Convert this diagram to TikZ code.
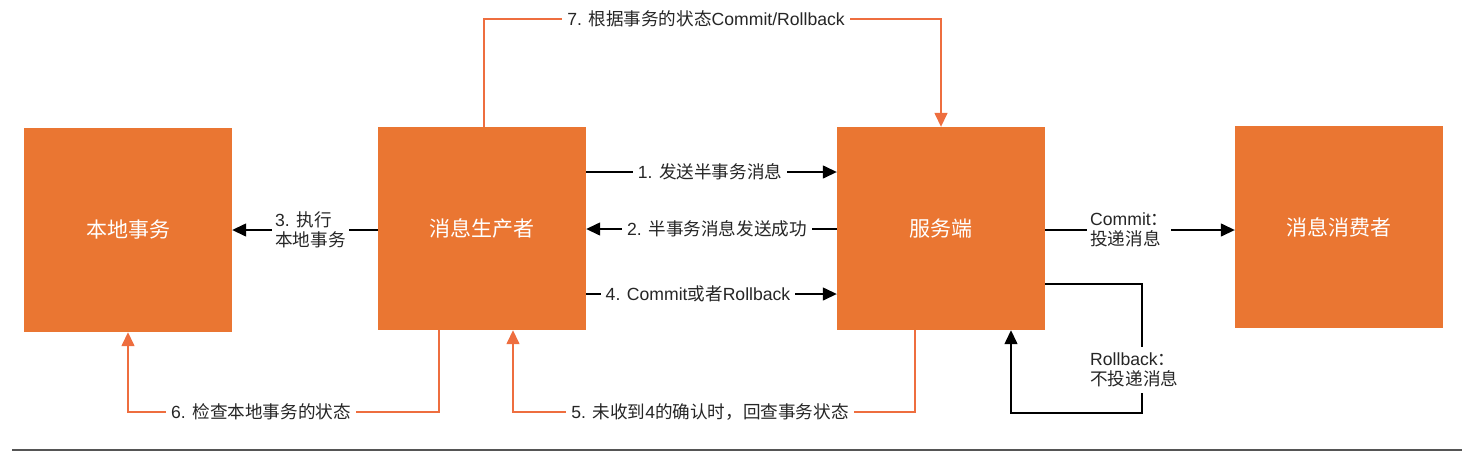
\documentclass[tikz,border=0pt]{standalone}
\usepackage{fontspec}
\setmainfont{Liberation Sans}
\newfontfamily\cjk{Noto Sans CJK SC}
\usetikzlibrary{arrows.meta}
\definecolor{boxorange}{HTML}{EA7632}
\definecolor{lineorange}{HTML}{EE6E3F}
\definecolor{rulegray}{HTML}{555555}
\tikzset{
  box/.style={fill=boxorange, draw=none, minimum width=208pt, minimum height=203pt, inner sep=0pt,
    text=white, font=\fontsize{21}{25}\selectfont\cjk},
  blk/.style={draw=black, line width=1.4pt, -{Triangle[length=14pt,width=13pt]}},
  org/.style={draw=lineorange, line width=1.5pt, -{Triangle[length=14pt,width=13pt]}},
  lbl/.style={fill=white, inner xsep=5pt, inner ysep=2pt, font=\fontsize{17.6}{21}\selectfont, text=black!85},
  lbl2/.style={lbl, align=left, font=\fontsize{17.6}{20}\selectfont}
}
\begin{document}
\begin{tikzpicture}[x=1pt,y=-1pt]
\useasboundingbox (0,0) rectangle (1476,451);
% boxes
\node[box, minimum height=204pt] (b1) at (128,230) {本地事务};
\node[box] (b2) at (482,228.5) {消息生产者};
\node[box] (b3) at (941,228.5) {服务端};
\node[box, minimum height=202pt] (b4) at (1339,227) {消息消费者};
% coordinates
\coordinate (t1) at (484,19);
\coordinate (t2) at (941,19);
\coordinate (p6a) at (439,412);
\coordinate (p6b) at (128,412);
\coordinate (p5a) at (915,412);
\coordinate (p5b) at (513,412);
\coordinate (r1) at (1142,284);
\coordinate (r2) at (1142,413);
\coordinate (r3) at (1011,413);
% 7
\draw[org] (b2.north -| t1) -- (t1) -- (t2) -- (b3.north);
\node[lbl] at (706,19) {7. {\cjk 根据事务的状态}Commit/Rollback};
% 1
\draw[blk] (b2.east |- 0,172) -- (b3.west |- 0,172);
\node[lbl] at (710,172) {1. {\cjk 发送半事务消息}};
% 2
\draw[blk] (b3.west |- 0,229) -- (b2.east |- 0,229);
\node[lbl] at (717,229) {2. {\cjk 半事务消息发送成功}};
% 4
\draw[blk] (b2.east |- 0,294) -- (b3.west |- 0,294);
\node[lbl] at (698,294) {4. Commit{\cjk 或者}Rollback};
% 3
\draw[blk] (b2.west |- 0,230) -- (b1.east |- 0,230);
\node[lbl2, anchor=west, inner xsep=3pt] at (272,230) {3. {\cjk 执行}\\{\cjk 本地事务}};
% commit
\draw[blk] (b3.east |- 0,230) -- (b4.west |- 0,230);
\node[lbl2, anchor=west, inner xsep=3pt] at (1087,230) {Commit{\cjk ：}\\{\cjk 投递消息}};
% rollback loop
\draw[blk] (b3.east |- r1) -- (r1) -- (r2) -- (r3) -- (b3.south -| r3);
\node[lbl2, anchor=west, inner xsep=3pt, inner ysep=6pt] at (1087,370) {Rollback{\cjk ：}\\{\cjk 不投递消息}};
% 6
\draw[org] (b2.south -| p6a) -- (p6a) -- (p6b) -- (b1.south);
\node[lbl] at (261,412) {6. {\cjk 检查本地事务的状态}};
% 5
\draw[org] (b3.south -| p5a) -- (p5a) -- (p5b) -- (b2.south -| p5b);
\node[lbl] at (710,412) {5. {\cjk 未收到}4{\cjk 的确认时，回查事务状态}};
% bottom rule
\draw[rulegray, line width=1.5pt] (12,450) -- (1462,450);
\end{tikzpicture}
\end{document}
